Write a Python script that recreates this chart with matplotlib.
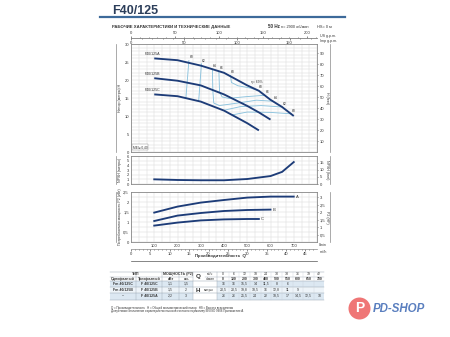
import numpy as np
import matplotlib.pyplot as plt
from matplotlib.lines import Line2D
from matplotlib.patches import Rectangle, Ellipse

plt.rcParams['font.family'] = ['Liberation Sans', 'DejaVu Sans']

W, H = 450, 337
fig = plt.figure(figsize=(4.5, 3.37), dpi=100)

# flow points of the table (l/min) and the same in m3/h
q_lpm = [0, 100, 200, 300, 400, 500, 550, 600, 650, 700]
q_m3h = [0, 6, 12, 18, 24, 30, 33, 36, 39, 42]

# head (m) for the three impellers
head_c = [16, 16, 15.5, 14, 11.5, 8, 6]
head_b = [20.5, 20.5, 19.8, 18.5, 16, 12.8, 11, 9]
head_a = [26, 26, 25.5, 24, 22, 18.5, 17, 14.5, 12.5, 10]

single_phase = ['Fm 40/125C', 'Fm 40/125B', '–']
three_phase = ['F 40/125C', 'F 40/125B', 'F 40/125A']
power_kw = ['1,1', '1,5', '2,2']
power_hp = ['1,5', '2', '3']

# NPSH required (m)
npsh_q = [100, 200, 300, 400, 500, 600, 650, 700]
npsh_m = [1.0, 0.86, 0.8, 0.8, 1.07, 1.7, 2.6, 4.7]

# absorbed power P2 (kW)
p2_q_a = [100, 200, 300, 400, 500, 600, 700]
p2_a = [1.47, 1.77, 1.97, 2.1, 2.22, 2.27, 2.27]
p2_q_b = [100, 200, 300, 400, 500, 600]
p2_b = [1.05, 1.32, 1.45, 1.55, 1.6, 1.62]
p2_q_c = [100, 200, 300, 400, 500, 550]
p2_c = [0.82, 0.97, 1.08, 1.13, 1.15, 1.15]

# iso-efficiency lines, (l/min, m)
eta60_left = [(249, 25.4), (236, 14.9)]
eta60_right = [(690, 10.6), (600, 11.0), (500, 11.1), (435, 10.3)]
eta62_left = [(303, 24.5), (291, 14.1)]
eta62_right = [(650, 12.5), (560, 12.9), (470, 12.6), (400, 11.6)]
eta64 = [(350, 23.0), (352, 17), (356, 13.6), (380, 12.9), (460, 13.6), (540, 14.4), (610, 14.1)]
eta66 = [(378, 22.4), (381, 16.6), (392, 15.3), (420, 14.9), (500, 15.4), (575, 15.75)]
eta68 = [(428, 21.3), (432, 19.3), (460, 18.4), (510, 17.8), (548, 17.1)]
eta_left_labels = [(249, 25.4, '60'), (303, 24.5, '62'), (350, 23.0, '64'), (378, 22.4, '66'), (428, 21.3, '68')]
eta_right_labels = [(548, 17.1, '68'), (575, 15.75, '66'), (610, 14.1, '64'), (650, 12.5, '62'), (690, 10.6, '60')]

NAVY = '#1d3c78'
EFF = '#8cc3de'
GRID = '#d9d9d9'
TXT = '#333333'


def box(x0, y0, x1, y1):
    return [x0 / W, 1 - y1 / H, (x1 - x0) / W, (y1 - y0) / H]


def ftext(x, y, s, **kw):
    kw.setdefault('color', TXT)
    kw.setdefault('fontsize', 3)
    return fig.text(x / W, 1 - y / H, s, **kw)


def fline(x0, y0, x1, y1, **kw):
    fig.add_artist(Line2D([x0 / W, x1 / W], [1 - y0 / H, 1 - y1 / H],
                          transform=fig.transFigure, **kw))


def frame(ax, ymax, ystep, ylabels):
    ax.set_xlim(0, 800)
    ax.set_ylim(0, ymax)
    ax.set_xticks(np.arange(100, 701, 100))
    ax.set_xticks(np.arange(0, 801, 100 / 3), minor=True)
    ax.set_yticks(np.arange(0, ymax + 1e-9, ystep), minor=True)
    ax.set_yticks(ylabels)
    ax.grid(which='both', color=GRID, lw=0.35)
    ax.tick_params(which='both', length=0, labelsize=3, pad=1.5, colors=TXT)
    ax.tick_params(axis='x', labelbottom=False)
    for s in ax.spines.values():
        s.set_color('#888888')
        s.set_linewidth(0.6)
    ax.set_axisbelow(True)


def comma(v):
    return f'{v:g}'.replace('.', ',')


# --- header
ftext(112, 11.5, 'F40/125', fontsize=9, fontweight='bold', color='#2c3e5a', va='center')
fline(100, 16.5, 345, 16.5, color='#3d6a9a', lw=1.6)
ftext(112, 27, 'РАБОЧИЕ ХАРАКТЕРИСТИКИ И ТЕХНИЧЕСКИЕ ДАННЫЕ', fontsize=3.1,
      fontweight='bold', va='center')
ftext(268, 27, '50 Hz', fontsize=3.3, fontweight='bold', va='center')
ftext(281, 27, 'n= 2900 об/мин', fontsize=2.8, va='center')
ftext(317, 27, 'HS= 0 м', fontsize=2.8, va='center')

# --- head curves
ax_h = fig.add_axes(box(131, 44, 317, 152))
frame(ax_h, 30, 1, range(0, 31, 5))
for pts in [eta60_left, eta60_right, eta62_left, eta62_right, eta64, eta66, eta68]:
    qs, hs = zip(*pts)
    ax_h.plot(qs, hs, color=EFF, lw=0.65)
for q, h, s in eta_left_labels + eta_right_labels:
    ax_h.text(q + 3, h + 0.3, s, fontsize=2.4, color=TXT, ha='left', va='bottom')
ax_h.text(515, 18.9, 'η= 69%', fontsize=2.4, color=TXT, ha='left', va='bottom')
for head, name in [(head_a, 'F40/125A'), (head_b, 'F40/125B'), (head_c, 'F40/125C')]:
    ax_h.plot(q_lpm[1:len(head)], head[1:], color=NAVY, lw=1.35, solid_capstyle='butt')
    ax_h.text(60, head[1] + 0.6, name, fontsize=2.6, color=TXT, va='bottom')
ax_h.text(8, 0.8, 'MEI≥ 0,40', fontsize=2.3, color=TXT, va='bottom',
          bbox=dict(facecolor='white', edgecolor='#888888', lw=0.3, pad=0.6))
ft = ax_h.secondary_yaxis('right', functions=(lambda m: m / 0.3048, lambda f: f * 0.3048))
ft.set_yticks(range(10, 91, 10))
ft.tick_params(length=1, width=0.4, labelsize=3, pad=1, colors=TXT)
ft.spines['right'].set_visible(False)

# --- NPSH
ax_n = fig.add_axes(box(131, 156, 317, 184))
frame(ax_n, 6, 1, range(0, 7))
ax_n.plot(npsh_q, npsh_m, color=NAVY, lw=1.35)
nf = ax_n.secondary_yaxis('right', functions=(lambda m: m / 0.3048, lambda f: f * 0.3048))
nf.set_yticks([0, 5, 10, 15])
nf.tick_params(length=1, width=0.4, labelsize=3, pad=1, colors=TXT)
nf.spines['right'].set_visible(False)

# --- power P2
ax_p = fig.add_axes(box(131, 192, 317, 242))
frame(ax_p, 2.5, 0.25, np.arange(0, 2.51, 0.5))
ax_p.set_yticklabels([comma(v) for v in np.arange(0, 2.51, 0.5)])
ax_p.tick_params(axis='x', labelbottom=True)
ax_p.set_xticklabels([str(v) for v in range(100, 701, 100)])
for qs, ps, name in [(p2_q_a, p2_a, 'A'), (p2_q_b, p2_b, 'B'), (p2_q_c, p2_c, 'C')]:
    ax_p.plot(qs, ps, color=NAVY, lw=1.35)
    ax_p.text(qs[-1] + 8, ps[-1], name, fontsize=3, color=TXT, va='center')
hp = ax_p.secondary_yaxis('right', functions=(lambda k: k / 0.7457, lambda h: h * 0.7457))
hp.set_yticks(np.arange(0.5, 3.01, 0.5))
hp.set_yticklabels([comma(v) for v in np.arange(0.5, 3.01, 0.5)])
hp.tick_params(length=1, width=0.4, labelsize=3, pad=1, colors=TXT)
hp.spines['right'].set_visible(False)
ftext(319, 245.5, 'l/min', fontsize=2.6, va='center')

# --- side labels with their bracket lines
for y0, y1, left, right in [(44, 152, 'Напор (метры) H', 'H (feet)'),
                            (156, 184, 'NPSH (метры)', 'NPSH (feet)'),
                            (192, 242, 'Потребляемая мощность P2 (кВт)', 'P2 (HP)')]:
    fline(116, y0, 116, y1, color='#888888', lw=0.5)
    fline(330, y0, 330, y1, color='#888888', lw=0.5)
    ftext(119.5, (y0 + y1) / 2, left, rotation=90, fontsize=2.6, ha='center', va='center')
    ftext(327, (y0 + y1) / 2, right, rotation=270, fontsize=2.6, ha='center', va='center')


# --- extra flow scales (top: US / Imp g.p.m., bottom: m3/h)
def flow_scale(y, factor, major, minor, unit, above):
    a = fig.add_axes(box(131, y, 317, y + 0.001))
    a.set_xlim(0, 800 / factor)
    a.set_yticks([])
    a.set_xticks(major)
    a.set_xticks(minor, minor=True)
    a.set_xticklabels([comma(v) for v in major])
    for s in a.spines.values():
        s.set_visible(False)
    a.spines['bottom'].set_visible(True)
    a.spines['bottom'].set_color('#888888')
    a.spines['bottom'].set_linewidth(0.5)
    a.patch.set_alpha(0)
    if above:
        a.tick_params(which='both', top=True, bottom=False, labeltop=True, labelbottom=False,
                      direction='out', length=1.2, width=0.4, labelsize=3, pad=0.8, colors=TXT)
        a.tick_params(which='minor', length=0.7)
        ftext(320, y - 2.5, unit, fontsize=2.6, va='center')
    else:
        a.tick_params(which='both', direction='out', length=1.2, width=0.4, labelsize=3,
                      pad=0.8, colors=TXT)
        a.tick_params(which='minor', length=0.7)
        ftext(320, y + 3, unit, fontsize=2.6, va='center')
    return a


flow_scale(38, 3.78541, [0, 50, 100, 150, 200], np.arange(0, 211, 10), 'US g.p.m.', True)
flow_scale(38, 4.54609, [0, 50, 100, 150], np.arange(0, 176, 10), 'Imp g.p.m.', False)
flow_scale(249, 1000 / 60, list(range(0, 46, 5)), np.arange(0, 48, 1), 'm³/h', False)
ftext(220, 256.5, 'Производительность  Q', fontsize=3.1, fontweight='bold', ha='center', va='center')
fline(131, 260.5, 317, 260.5, color='#555555', lw=0.5)

# --- data table
tx0, tx1 = 110, 324
val_x = [223.3 + 10.67 * i for i in range(10)]
rows_y = [(281, 287), (287, 292.5), (292.5, 299.5)]
for i, (ya, yb) in enumerate(rows_y):
    fig.add_artist(Rectangle((tx0 / W, 1 - yb / H), (tx1 - tx0) / W, (yb - ya) / H,
                             transform=fig.transFigure,
                             facecolor='#dce8f2' if i != 1 else '#eef4f9', edgecolor='none'))
fig.add_artist(Rectangle((193 / W, 1 - 299.5 / H), (217 - 193) / W, (299.5 - 281) / H,
                         transform=fig.transFigure, facecolor='white', edgecolor='none'))
for y in [272, 281, 287, 292.5, 299.5]:
    fline(tx0, y, tx1, y, color='#9aa6b2', lw=0.35)
fline(tx0, 276.5, 193, 276.5, color='#9aa6b2', lw=0.3)
fline(205, 276.5, tx1, 276.5, color='#9aa6b2', lw=0.3)
for x in [136, 162, 179, 193, 217]:
    fline(x, 272, x, 299.5, color='#9aa6b2', lw=0.3)
for x in val_x[:-1]:
    fline(x + 5.33, 272, x + 5.33, 299.5, color='#c8d0d8', lw=0.25)

ftext(136, 274.2, 'ТИП', fontsize=2.6, fontweight='bold', ha='center', va='center')
ftext(178, 274.2, 'МОЩНОСТЬ (P2)', fontsize=2.6, fontweight='bold', ha='center', va='center')
ftext(123, 278.7, 'Однофазный', fontsize=2.6, fontweight='bold', ha='center', va='center')
ftext(149, 278.7, 'Трехфазный', fontsize=2.6, fontweight='bold', ha='center', va='center')
ftext(170.5, 278.7, 'кВт', fontsize=2.6, fontweight='bold', ha='center', va='center')
ftext(186, 278.7, 'л.с.', fontsize=2.6, fontweight='bold', ha='center', va='center')
ftext(198, 276.5, 'Q', fontsize=4.5, fontweight='bold', ha='center', va='center')
ftext(210, 274.2, 'м³/ч', fontsize=2.4, ha='center', va='center')
ftext(210, 278.7, 'л/мин', fontsize=2.4, ha='center', va='center')
for x, m3, lpm in zip(val_x, q_m3h, q_lpm):
    ftext(x, 274.2, str(m3), fontsize=2.5, ha='center', va='center')
    ftext(x, 278.7, str(lpm), fontsize=2.5, fontweight='bold', ha='center', va='center')

ftext(198, 290, 'H', fontsize=4.5, fontweight='bold', ha='center', va='center')
ftext(209, 290, 'метры', fontsize=2.4, ha='center', va='center')
for (ya, yb), sp, tp, kw, hpw, head in zip(rows_y, single_phase, three_phase,
                                          power_kw, power_hp, [head_c, head_b, head_a]):
    yc = (ya + yb) / 2
    ftext(123, yc, sp, fontsize=2.5, fontweight='bold', ha='center', va='center')
    ftext(149, yc, tp, fontsize=2.5, fontweight='bold', ha='center', va='center')
    ftext(170.5, yc, kw, fontsize=2.5, ha='center', va='center')
    ftext(186, yc, hpw, fontsize=2.5, ha='center', va='center')
    for x, h in zip(val_x, head):
        ftext(x, yc, comma(h), fontsize=2.5, ha='center', va='center')

ftext(111, 307.5, 'Q = Производительность   H = Общий манометрический напор   HS = Высота всасывания',
      fontsize=2.1, va='center')
ftext(111, 311, 'Допустимое отклонение характеристик насосов согласно нормативу EN ISO 9906 Приложение A.',
      fontsize=2.1, va='center')

# --- shop logo
fig.add_artist(Ellipse((359.5 / W, 1 - 308.5 / H), 22 / W, 22 / H,
                       transform=fig.transFigure, facecolor='#ef7676', edgecolor='none'))
ftext(359.5, 308.5, 'P', fontsize=10, fontweight='bold', color='white', ha='center', va='center')
ftext(373, 308.5, 'PD-SHOP', fontsize=8.3, fontweight='bold', fontstyle='italic',
      color='#5a7fbf', va='center')

fig.savefig('out.png', dpi=100, facecolor='white')
